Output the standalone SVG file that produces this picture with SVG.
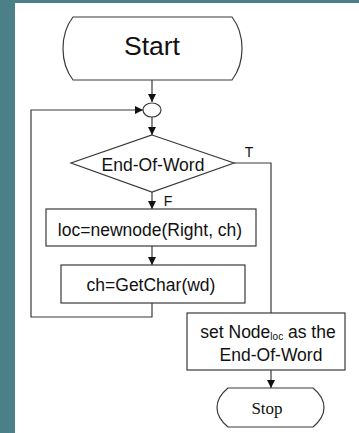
<svg xmlns="http://www.w3.org/2000/svg" width="359" height="433" viewBox="0 0 359 433">
<defs>
<style>
.shape{fill:#fff;stroke:#3a3a3a;stroke-width:1.2}
.line{fill:none;stroke:#3a3a3a;stroke-width:1.2}
.t{font-family:"Liberation Sans",Arial,sans-serif;fill:#111;text-anchor:middle}
.lbl{font-size:17.5px}
</style>
<marker id="arr" viewBox="0 0 10 10" refX="10" refY="5" markerWidth="8" markerHeight="8" markerUnits="userSpaceOnUse" orient="auto">
<path d="M0,0 L10,5 L0,10 z" fill="#111"/>
</marker>
</defs>
<rect x="0" y="0" width="359" height="433" fill="#4b8089"/>
<rect x="15" y="3" width="344" height="430" fill="#fff"/>
<g id="connectors">
<line class="line" x1="152" y1="80" x2="152" y2="102" marker-end="url(#arr)"/>
<line class="line" x1="152" y1="117" x2="152" y2="135" marker-end="url(#arr)"/>
<polyline class="line" points="152,303 152,317 31,317 31,110 143,110" marker-end="url(#arr)"/>
<line class="line" x1="152" y1="192" x2="152" y2="209" marker-end="url(#arr)"/>
<line class="line" x1="152" y1="246" x2="152" y2="265" marker-end="url(#arr)"/>
<polyline class="line" points="234,163 271,163 271,313"/>
<line class="line" x1="271" y1="370" x2="271" y2="388" marker-end="url(#arr)"/>
<text class="t" x="249" y="157" font-size="14">T</text>
<text class="t" x="168" y="206" font-size="14">F</text>
</g>
<g id="start">
<path class="shape" d="M73,17 L232,17 Q242,30 242,48.5 Q242,67 232,80 L73,80 Q63,67 63,48.5 Q63,30 73,17 z"/>
<text class="t" x="152" y="55" font-size="26.5">Start</text>
</g>
<g id="junction">
<ellipse class="shape" cx="152" cy="110" rx="9" ry="7"/>
</g>
<g id="decision">
<polygon class="shape" points="152,135 234,163 152,192 71,163"/>
<text class="t lbl" x="153" y="171">End-Of-Word</text>
</g>
<g id="newnode">
<rect class="shape" x="46" y="209" width="210" height="37"/>
<text class="t lbl" x="150" y="236">loc=newnode(Right, ch)</text>
</g>
<g id="getchar">
<rect class="shape" x="61" y="265" width="184" height="38"/>
<text class="t lbl" x="151" y="291">ch=GetChar(wd)</text>
</g>
<g id="setnode">
<rect class="shape" x="187" y="313" width="158" height="57"/>
<text class="t lbl" x="268" y="338">set Node<tspan font-size="10" dy="2">loc</tspan><tspan dy="-2"> as the</tspan></text>
<text class="t lbl" x="271" y="361">End-Of-Word</text>
</g>
<g id="stop">
<path class="shape" d="M228,388 L313,388 Q324,397 324,407.5 Q324,418 313,427 L228,427 Q217,418 217,407.5 Q217,397 228,388 z"/>
<text x="267" y="414" font-size="17" font-family="'Liberation Serif','Times New Roman',serif" fill="#111" text-anchor="middle">Stop</text>
</g>
</svg>
